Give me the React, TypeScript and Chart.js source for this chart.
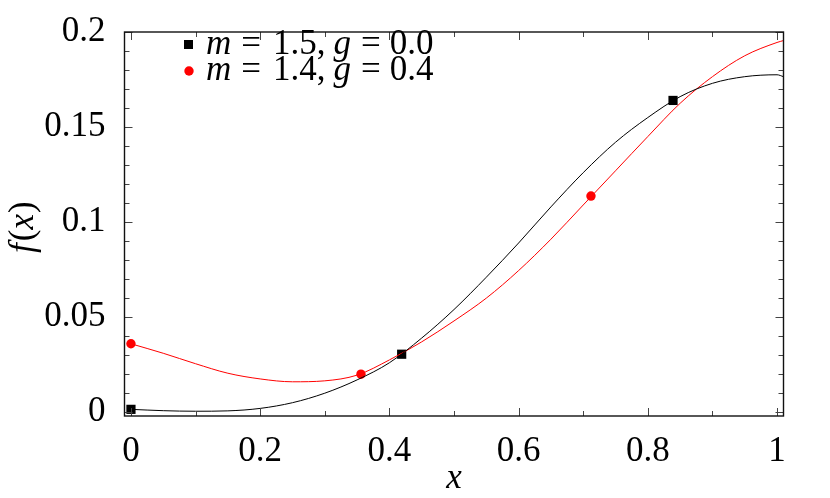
import React, { useEffect, useRef } from 'react';
import { Chart, registerables } from 'chart.js';
Chart.register(...registerables);

// ---- data ----
const curveX = [0, 0.05, 0.1, 0.15, 0.2, 0.25, 0.3, 0.35, 0.4, 0.45, 0.5, 0.55, 0.6, 0.65, 0.7, 0.75, 0.8, 0.85, 0.9, 0.95, 1.0, 1.01];
const blackCurve = [0.0015, 0.0008, 0.0005, 0.0007, 0.002, 0.005, 0.010, 0.017, 0.026, 0.039, 0.054, 0.071, 0.089, 0.108, 0.126, 0.142, 0.155, 0.166, 0.173, 0.1765, 0.1775, 0.1765];
const redCurve = [0.036, 0.031, 0.0255, 0.0205, 0.0175, 0.016, 0.0165, 0.0195, 0.0275, 0.037, 0.048, 0.060, 0.0745, 0.091, 0.109, 0.127, 0.145, 0.1625, 0.1765, 0.1875, 0.1945, 0.1955];
const blackMarkX = [0, 0.419, 0.839];
const blackMarkY = [0.0015, 0.0305, 0.164];
const redMarkX = [0, 0.356, 0.712];
const redMarkY = [0.036, 0.020, 0.1137];

const xTicks = [0, 0.2, 0.4, 0.6, 0.8, 1];
const xTickLabels = ['0', '0.2', '0.4', '0.6', '0.8', '1'];
const xMinor = [0.1, 0.3, 0.5, 0.7, 0.9];
const yTicks = [0, 0.05, 0.1, 0.15, 0.2];
const yTickLabels = ['0', '0.05', '0.1', '0.15', '0.2'];
const yMinor = [0.01, 0.02, 0.03, 0.04, 0.06, 0.07, 0.08, 0.09, 0.11, 0.12, 0.13, 0.14, 0.16, 0.17, 0.18, 0.19];

const legend1 = [['m', true], ['=', false], ['1.5,', false], ['g', true], ['=', false], ['0.0', false]] as [string, boolean][];
const legend2 = [['m', true], ['=', false], ['1.4,', false], ['g', true], ['=', false], ['0.4', false]] as [string, boolean][];
const xTitle = 'x';
const yTitle = [['f', true], ['(', false], ['x', true], [')', false]] as [string, boolean][];

const SERIF = '"Liberation Serif"';

function drawTokens(ctx: CanvasRenderingContext2D, tokens: [string, boolean][], x: number, y: number, size: number, gaps: number[]) {
  let cx = x;
  tokens.forEach(([t, it], i) => {
    ctx.font = `${it ? 'italic ' : ''}${size}px ${SERIF}`;
    ctx.fillText(t, cx, y);
    cx += ctx.measureText(t).width + (gaps[i] || 0);
  });
}

const framePlugin = {
  id: 'framePlugin',
  afterDraw(chart: any) {
    const { ctx, chartArea } = chart;
    const { left, right, top, bottom } = chartArea;
    const xs = chart.scales.x;
    const ys = chart.scales.y;
    ctx.save();
    ctx.strokeStyle = '#444';
    ctx.lineWidth = 1;
    const tickX = (v: number, len: number) => {
      const p = Math.round(xs.getPixelForValue(v)) + 0.5;
      ctx.beginPath();
      ctx.moveTo(p, bottom); ctx.lineTo(p, bottom - len);
      ctx.moveTo(p, top); ctx.lineTo(p, top + len);
      ctx.stroke();
    };
    const tickY = (v: number, len: number) => {
      const p = Math.round(ys.getPixelForValue(v)) + 0.5;
      ctx.beginPath();
      ctx.moveTo(left, p); ctx.lineTo(left + len, p);
      ctx.moveTo(right, p); ctx.lineTo(right - len, p);
      ctx.stroke();
    };
    xTicks.forEach((v) => tickX(v, 8));
    xMinor.forEach((v) => tickX(v, 5));
    yTicks.forEach((v) => tickY(v, 8));
    yMinor.forEach((v) => tickY(v, 5));
    ctx.strokeStyle = '#111';
    ctx.lineWidth = 1.4;
    ctx.strokeRect(left, top, right - left, bottom - top);

    // legend
    ctx.fillStyle = '#000';
    ctx.textBaseline = 'alphabetic';
    ctx.textAlign = 'left';
    ctx.fillRect(184, 40, 9, 9);
    ctx.fillStyle = '#ff0000';
    ctx.beginPath();
    ctx.arc(189, 71, 4.7, 0, Math.PI * 2);
    ctx.fill();
    ctx.fillStyle = '#000';
    const gaps = [10, 12, 8, 10, 9, 0];
    drawTokens(ctx, legend1, 206, 54, 35, gaps);
    drawTokens(ctx, legend2, 206, 80, 35, gaps);

    // axis titles
    ctx.font = `italic 35px ${SERIF}`;
    ctx.textAlign = 'center';
    ctx.fillText(xTitle, 454, 488);
    ctx.textAlign = 'left';
    ctx.save();
    ctx.translate(33, 253);
    ctx.rotate(-Math.PI / 2);
    drawTokens(ctx, yTitle, 0, 0, 35, [2, 0, 1, 0]);
    ctx.restore();
    ctx.restore();
  },
};

export default function App() {
  const ref = useRef<HTMLCanvasElement | null>(null);
  useEffect(() => {
    let chart: Chart | null = null;
    let cancelled = false;
    const build = () => {
      if (cancelled || !ref.current) return;
      const pts = (xa: number[], ya: number[]) => xa.map((x, i) => ({ x, y: ya[i] }));
      chart = new Chart(ref.current, {
        type: 'line',
        data: {
          datasets: [
            { data: pts(curveX, blackCurve), borderColor: '#000', borderWidth: 1, pointRadius: 0, cubicInterpolationMode: 'monotone', fill: false },
            { data: pts(curveX, redCurve), borderColor: '#ff0000', borderWidth: 1, pointRadius: 0, cubicInterpolationMode: 'monotone', fill: false },
            { data: pts(blackMarkX, blackMarkY), showLine: false, pointStyle: 'rect', pointRadius: 6.5, backgroundColor: '#000', borderColor: '#000', borderWidth: 0, clip: false },
            { data: pts(redMarkX, redMarkY), showLine: false, pointStyle: 'circle', pointRadius: 4.7, backgroundColor: '#ff0000', borderColor: '#ff0000', borderWidth: 0, clip: false },
          ] as any,
        },
        options: {
          animation: false,
          responsive: false,
          devicePixelRatio: 1,
          layout: { padding: { top: 25, right: 46.5, left: 0, bottom: 0 } },
          plugins: { legend: { display: false }, tooltip: { enabled: false } },
          scales: {
            x: {
              type: 'linear',
              min: -0.01,
              max: 1.01,
              grid: { display: false },
              border: { display: false },
              afterBuildTicks: (s: any) => { s.ticks = xTicks.map((v) => ({ value: v })); },
              afterFit: (s: any) => { s.height = 82; },
              ticks: {
                autoSkip: false,
                maxRotation: 0,
                padding: 7,
                color: '#000',
                font: { family: SERIF, size: 35 },
                callback: (_v: any, i: number) => xTickLabels[i],
              },
            },
            y: {
              type: 'linear',
              min: -0.002,
              max: 0.2,
              grid: { display: false },
              border: { display: false },
              afterBuildTicks: (s: any) => { s.ticks = yTicks.map((v) => ({ value: v })); },
              afterFit: (s: any) => { s.width = 124.5; },
              ticks: {
                autoSkip: false,
                padding: 11,
                color: '#000',
                font: { family: SERIF, size: 35 },
                callback: (_v: any, i: number) => yTickLabels[i],
              },
            },
          },
        } as any,
        plugins: [framePlugin],
      });
    };
    const fonts = (document as any).fonts;
    if (fonts && fonts.load) {
      Promise.all([
        fonts.load(`35px ${SERIF}`),
        fonts.load(`italic 35px ${SERIF}`),
      ]).then(build, build);
    } else {
      build();
    }
    return () => {
      cancelled = true;
      if (chart) chart.destroy();
    };
  }, []);
  return (
    <div style={{ position: 'fixed', left: 0, top: 0, width: 830, height: 498, background: '#fff' }}>
      <canvas ref={ref} width={830} height={498} style={{ width: 830, height: 498 }} />
    </div>
  );
}
